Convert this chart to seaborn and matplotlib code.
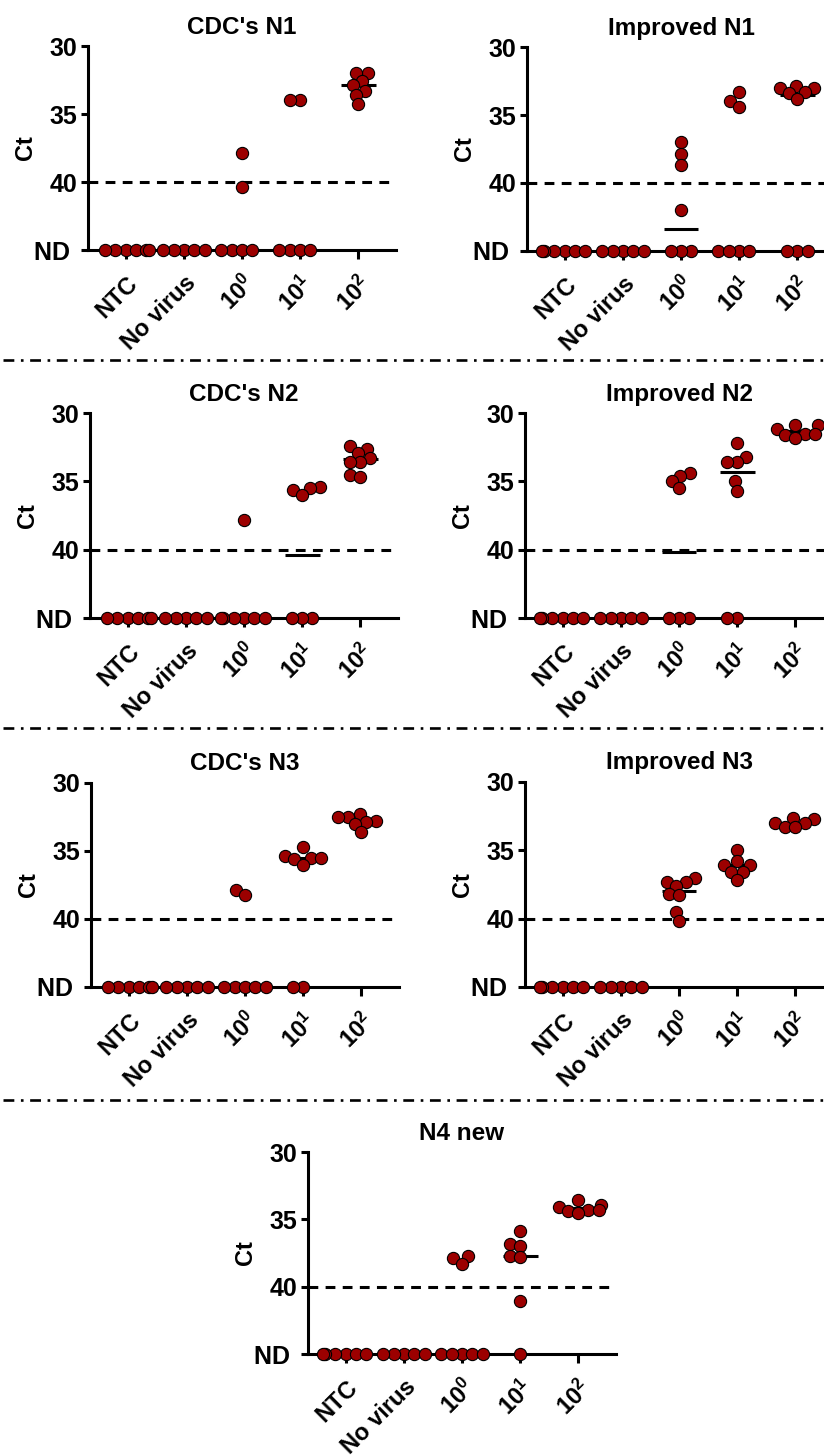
import warnings
import numpy as np
import pandas as pd
import matplotlib
matplotlib.use("Agg")
import matplotlib.pyplot as plt
import matplotlib.collections as mcoll
import seaborn as sns
from matplotlib.lines import Line2D

warnings.filterwarnings("ignore")

# ---------------- data ----------------
ND = 45
categories = ["NTC", "No virus", "10$^{0}$", "10$^{1}$", "10$^{2}$"]
ytick_values = [30, 35, 40, ND]
ytick_labels = ["30", "35", "40", "ND "]
threshold = 40
titles = ["CDC's N1", "Improved N1", "CDC's N2", "Improved N2",
          "CDC's N3", "Improved N3", "N4 new"]

cdc_n1 = [[ND] * 6, [ND] * 5,
          [37.9, 40.4] + [ND] * 4,
          [34.0, 34.0] + [ND] * 4,
          [32.0, 32.0, 32.6, 32.9, 33.3, 33.6, 34.3]]
cdc_n1_mean = [None, None, None, None, 32.9]

improved_n1 = [[ND] * 6, [ND] * 5,
               [37.0, 37.9, 38.7, 42.0] + [ND] * 3,
               [33.3, 34.0, 34.4] + [ND] * 4,
               [32.9, 33.0, 33.0, 33.3, 33.4, 33.8] + [ND] * 3]
improved_n1_mean = [None, None, 43.4, None, 33.5]

cdc_n2 = [[ND] * 6, [ND] * 5,
          [37.8] + [ND] * 6,
          [35.4, 35.5, 35.6, 36.0] + [ND] * 3,
          [32.4, 32.6, 32.9, 33.3, 33.6, 33.6, 34.5, 34.7]]
cdc_n2_mean = [None, None, None, 40.4, 33.4]

improved_n2 = [[ND] * 6, [ND] * 5,
               [34.4, 34.6, 35.0, 35.5] + [ND] * 3,
               [32.2, 33.2, 33.6, 33.6, 35.0, 35.7] + [ND] * 2,
               [30.9, 30.9, 31.2, 31.5, 31.5, 31.6, 31.8]]
improved_n2_mean = [None, None, 40.2, 34.3, 31.3]

cdc_n3 = [[ND] * 6, [ND] * 5,
          [37.9, 38.2] + [ND] * 5,
          [34.7, 35.4, 35.5, 35.5, 35.6, 36.0] + [ND] * 2,
          [32.3, 32.5, 32.5, 32.8, 32.9, 33.0, 33.6]]
cdc_n3_mean = [None, None, None, 35.5, 32.8]

improved_n3 = [[ND] * 6, [ND] * 5,
               [37.0, 37.3, 37.3, 37.6, 38.2, 38.3, 39.5, 40.2],
               [35.0, 35.8, 36.1, 36.1, 36.6, 36.6, 37.2],
               [32.6, 32.7, 33.0, 33.0, 33.3, 33.3]]
improved_n3_mean = [None, None, 38.0, 36.1, 33.0]

n4_new = [[ND] * 6, [ND] * 5,
          [37.7, 37.9, 38.3] + [ND] * 5,
          [35.9, 36.8, 37.0, 37.7, 37.8, 41.1, ND],
          [33.6, 33.9, 34.1, 34.3, 34.3, 34.4, 34.5]]
n4_new_mean = [None, None, None, 37.7, 34.15]

panels = [cdc_n1, improved_n1, cdc_n2, improved_n2, cdc_n3, improved_n3, n4_new]
panel_means = [cdc_n1_mean, improved_n1_mean, cdc_n2_mean, improved_n2_mean,
               cdc_n3_mean, improved_n3_mean, n4_new_mean]

# ---------------- style ----------------
sns.set_theme(style="ticks")
plt.rcParams["font.family"] = ["Liberation Sans", "DejaVu Sans"]
plt.rcParams["font.weight"] = "bold"
plt.rcParams["mathtext.fontset"] = "custom"
plt.rcParams["mathtext.rm"] = "Liberation Sans"
plt.rcParams["mathtext.it"] = "Liberation Sans:italic"
plt.rcParams["mathtext.bf"] = "Liberation Sans:bold"
for key in ["text.color", "axes.labelcolor", "xtick.color", "ytick.color",
            "axes.edgecolor"]:
    plt.rcParams[key] = "black"

RED = "#9c0000"
LW = 2.2
SWARM_SIZE = 6.3    # marker size used for the swarm layout (overlapping look)
MARKER_SIZE = 8.8   # drawn marker diameter in points

W, H = 824, 1455
fig = plt.figure(figsize=(W / 100, H / 100), dpi=100)

# axes boxes in pixels: (left, top, bottom)
boxes = [(88, 46, 250), (527, 47, 251),
         (90, 413, 618), (525, 413, 618),
         (91, 783, 987), (525, 782, 987),
         (308, 1152, 1354)]
AX_W = 308

axes = []
for data, means, title, (lx, ty, by) in zip(panels, panel_means, titles, boxes):
    ax = fig.add_axes([lx / W, 1 - by / H, AX_W / W, (by - ty) / H])
    axes.append(ax)
    df = pd.DataFrame({
        "group": [c for c, g in zip(categories, data) for _ in g],
        "ct": [v for g in data for v in g],
    })
    sns.swarmplot(data=df, x="group", y="ct", order=categories, ax=ax,
                  size=SWARM_SIZE, color=RED, edgecolor="black",
                  linewidth=0.8, zorder=3)
    ax.axhline(threshold, color="black", lw=LW, ls=(0, (3.2, 2.4)), zorder=2)
    for i, m in enumerate(means):
        if m is not None:
            ax.hlines(m, i - 0.3, i + 0.3, color="black", lw=LW, zorder=2.8)
    ax.set_ylim(ND, 30)
    ax.set_xlim(-0.65, 4.65)
    ax.set_yticks(ytick_values)
    ax.set_yticklabels(ytick_labels, fontsize=18, fontweight="bold")
    ax.set_xticks(range(len(categories)))
    ax.set_xticklabels(categories, fontsize=17, fontweight="bold",
                       rotation=45, ha="right", rotation_mode="anchor")
    ax.set_xlabel("")
    ax.set_ylabel("Ct", fontsize=17, fontweight="bold")
    ax.yaxis.set_label_coords(-0.165, 0.5)
    ax.set_title(title, fontsize=17.5, fontweight="bold", pad=9)
    for s in ["top", "right"]:
        ax.spines[s].set_visible(False)
    for s in ["left", "bottom"]:
        ax.spines[s].set_linewidth(LW)
        ax.spines[s].set_color("black")
    ax.tick_params(axis="y", length=5, width=LW, colors="black", pad=3)
    ax.tick_params(axis="x", length=6.5, width=LW, colors="black", pad=9)
    ax.set_facecolor("none")

# let seaborn lay out the swarms, then freeze them and enlarge the markers
fig.canvas.draw()
for ax in axes:
    for coll in ax.collections:
        if "draw" in coll.__dict__:
            del coll.__dict__["draw"]
        if isinstance(coll, mcoll.PathCollection):
            coll.set_sizes([MARKER_SIZE ** 2])
            coll.set_clip_on(False)
            coll.set_zorder(3)

# dash-dot separators between rows
for ypx in [360, 728, 1100]:
    fig.add_artist(Line2D([0.004, 1.0], [1 - ypx / H, 1 - ypx / H],
                          transform=fig.transFigure, color="black", lw=1.9,
                          ls=(0, (4.1, 2.5, 1.0, 2.5))))

fig.savefig("out.png", dpi=100)
